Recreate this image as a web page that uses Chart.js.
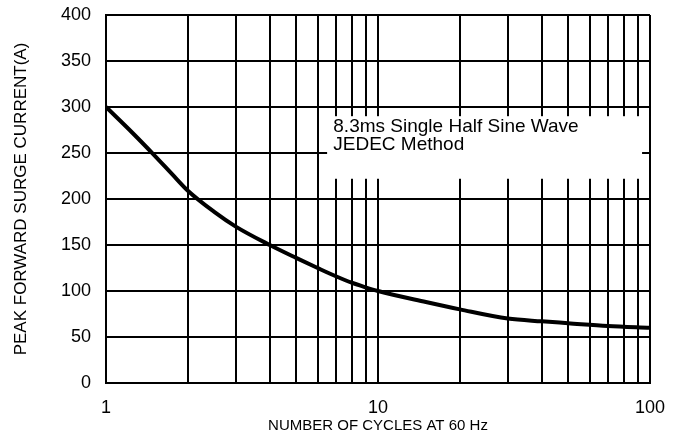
<!DOCTYPE html>
<html>
<head>
<meta charset="utf-8">
<script src="https://cdn.jsdelivr.net/npm/chart.js@4/dist/chart.umd.min.js"></script>
<style>
  html, body { margin: 0; padding: 0; background: #ffffff; }
  canvas { display: block; }
</style>
</head>
<body>
<canvas id="c" width="681" height="439"></canvas>
<script>
// ---- Data ----
const cycles  = [1, 1.25, 1.5, 1.75, 2, 2.5, 3, 4, 5, 6, 7, 8, 9, 10, 15, 20, 30, 40, 50, 70, 100];
const current = [300, 272, 248, 227, 209, 186, 170, 150, 136, 125, 116, 109, 104, 100, 88, 80, 70, 67, 65, 62, 60];
const xGridValues = [1, 2, 3, 4, 5, 6, 7, 8, 9, 10, 20, 30, 40, 50, 60, 70, 80, 90, 100];
const xTickLabels = [1, 10, 100];
const yTicks = [0, 50, 100, 150, 200, 250, 300, 350, 400];
const noteLines = ["8.3ms Single Half Sine Wave", "JEDEC Method"];
const xTitle = "NUMBER OF CYCLES AT 60 Hz";
const yTitle = "PEAK FORWARD SURGE CURRENT(A)";

const FONT = "'Liberation Sans', Arial, sans-serif";

const bgPlugin = {
  id: 'bg',
  beforeDraw(chart) {
    const ctx = chart.ctx;
    ctx.save();
    ctx.fillStyle = '#ffffff';
    ctx.fillRect(0, 0, chart.width, chart.height);
    ctx.restore();
  }
};

// white note box over the grid, with the text
const notePlugin = {
  id: 'note',
  beforeDatasetsDraw(chart) {
    const xs = chart.scales.x, ys = chart.scales.y, ctx = chart.ctx;
    const x0 = xs.getPixelForValue(6.5), x1 = xs.getPixelForValue(93.5);
    const y0 = ys.getPixelForValue(290), y1 = ys.getPixelForValue(222);
    ctx.save();
    ctx.fillStyle = '#ffffff';
    ctx.fillRect(x0, y0, x1 - x0, y1 - y0);
    ctx.fillStyle = '#000000';
    ctx.font = '19px ' + FONT;
    ctx.textBaseline = 'alphabetic';
    ctx.textAlign = 'left';
    const tx = xs.getPixelForValue(6.85);
    const by = ys.getPixelForValue(272.5);
    noteLines.forEach((t, i) => ctx.fillText(t, tx, by + i * 18));
    ctx.restore();
  }
};

new Chart(document.getElementById('c'), {
  type: 'line',
  data: {
    datasets: [{
      data: cycles.map((c, i) => ({ x: c, y: current[i] })),
      borderColor: '#000000',
      borderWidth: 4,
      pointRadius: 0,
      cubicInterpolationMode: 'monotone',
      fill: false
    }]
  },
  options: {
    responsive: false,
    animation: false,
    layout: { padding: { left: 0, right: 31, top: 15, bottom: 0 } },
    plugins: { legend: { display: false }, tooltip: { enabled: false } },
    scales: {
      x: {
        type: 'logarithmic',
        min: 1, max: 100,
        afterBuildTicks(scale) { scale.ticks = xGridValues.map(v => ({ value: v })); },
        afterFit(scale) { scale.height = 56; scale.paddingLeft = 0; scale.paddingRight = 0; },
        ticks: {
          autoSkip: false, maxRotation: 0, minRotation: 0,
          padding: 14,
          color: '#000000',
          font: { family: FONT, size: 18 },
          callback(v) { return xTickLabels.includes(v) ? String(v) : ''; }
        },
        grid: { color: '#000000', lineWidth: 2, drawTicks: false },
        border: { display: true, color: '#000000', width: 2 },
        title: {
          display: true, text: xTitle, color: '#000000',
          font: { family: FONT, size: 15 },
          padding: { top: 0, bottom: 4 }
        }
      },
      y: {
        type: 'linear',
        min: 0, max: 400,
        afterBuildTicks(scale) { scale.ticks = yTicks.map(v => ({ value: v })); },
        afterFit(scale) { scale.width = 106; scale.paddingTop = 0; scale.paddingBottom = 0; },
        ticks: {
          padding: 15,
          color: '#000000',
          font: { family: FONT, size: 18 }
        },
        grid: { color: '#000000', lineWidth: 2, drawTicks: false },
        border: { display: true, color: '#000000', width: 2 },
        title: {
          display: true, text: yTitle, color: '#000000',
          font: { family: FONT, size: 17 },
          padding: { top: 11, bottom: 0 }
        }
      }
    }
  },
  plugins: [bgPlugin, notePlugin]
});
</script>
</body>
</html>
